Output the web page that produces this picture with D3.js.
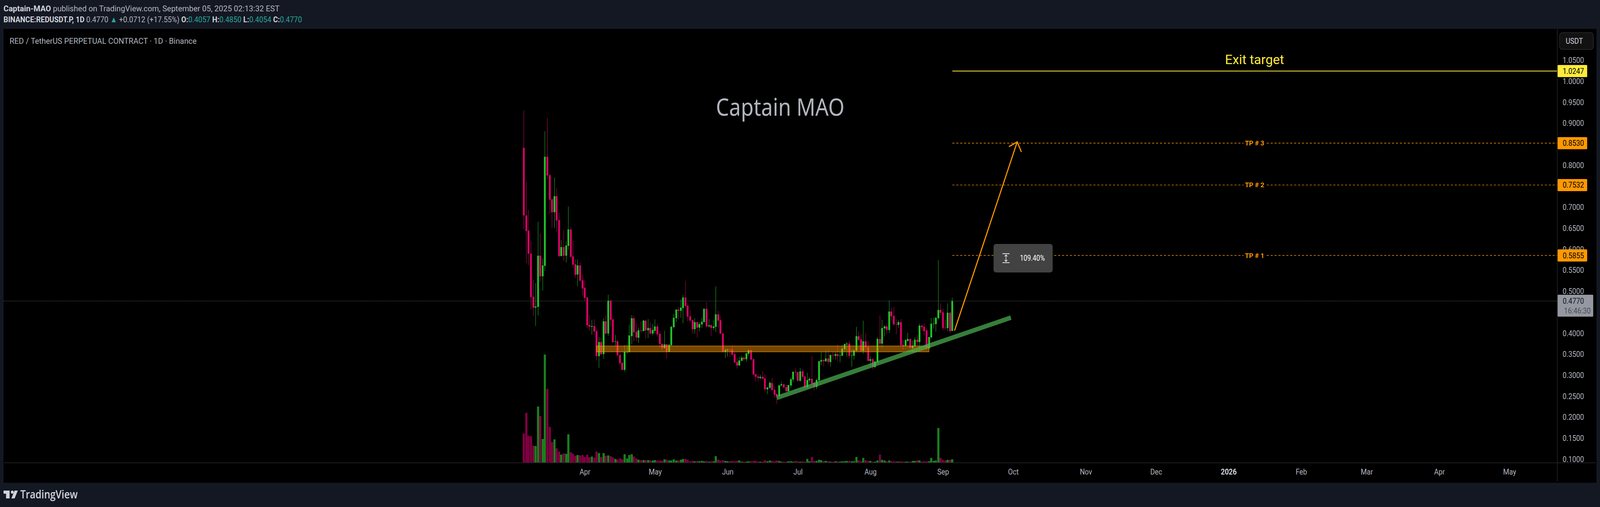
<!DOCTYPE html>
<html lang="en">
<head>
<meta charset="utf-8">
<title>RED / TetherUS daily</title>
<script src="https://cdn.jsdelivr.net/npm/d3@7"></script>
<style>
  html, body { margin: 0; padding: 0; width: 100%; height: 100%; background: #141823; overflow: hidden; }
  text { font-family: Roboto, "Liberation Sans", sans-serif; }
</style>
</head>
<body>
<script>
// Daily candles, one per day from the first date
const firstDay = "2025-03-06";

const highs = [
.9305,.7610,.6940,.6204,.5273,.5198,.6660,.6381,.5785,.8811,
.9128,.7815,.7210,.7712,.7461,.6874,.6223,.6455,.6195,.7024,
.6530,.6204,.5757,.5757,.5692,.5403,.5264,.4863,.4435,.4323,
.4333,.4109,.3914,.3904,.4360,.4426,.4919,.4798,.4388,.3960,
.3848,.3550,.3308,.3718,.3737,.4202,.4435,.4416,.4230,.4137,
.4286,.4323,.4304,.4342,.4258,.4221,.4333,.4230,.4053,.3755,
.4062,.3755,.3755,.4183,.4463,.4575,.4630,.4807,.4910,.5254,
.4714,.4547,.4333,.4360,.4276,.4267,.4370,.4602,.4742,.4342,
.4212,.4304,.5115,.4537,.4407,.4016,.3643,.3634,.3634,.3709,
.3550,.3402,.3439,.3467,.3457,.3541,.3615,.3615,.3402,.3029,
.3029,.3011,.3103,.3029,.2713,.2862,.2936,.2732,.2573,.2778,
.2852,.2806,.2778,.2769,.2955,.3095,.3169,.3085,.3178,.3150,
.2983,.3057,.2955,.3457,.2834,.2927,.3346,.3550,.3383,.3597,
.3625,.3495,.3560,.3560,.3737,.3569,.3718,.3755,.3793,.3821,
.3615,.3606,.4156,.4053,.3988,.4304,.3997,.3811,.3457,.3411,
.3355,.3914,.4426,.4323,.4193,.4230,.4779,.4603,.4631,.4333,
.4314,.4342,.3839,.3858,.4016,.3876,.3830,.3914,.3960,.4230,
.4221,.4240,.4128,.3914,.4370,.4370,.4388,.5748,.4714,.4584,
.4323,.4714,.4509,.4850];

const opens = [
.8420,.6809,.6446,.5897,.4872,.4612,.4630,.5850,.5358,.5608,
.8206,.7768,.7191,.6884,.7266,.6697,.5841,.6055,.5850,.6083,
.6474,.5832,.5645,.5403,.5618,.5264,.5087,.4854,.4202,.4156,
.4174,.4053,.3457,.3792,.3504,.4286,.3997,.4779,.4333,.3801,
.3811,.3485,.3299,.3132,.3550,.3550,.3932,.4360,.4035,.3895,
.4072,.4053,.4304,.4072,.4128,.3997,.4062,.4165,.3988,.3755,
.3653,.3737,.3560,.3718,.4147,.4360,.4565,.4537,.4602,.4854,
.4658,.4407,.4314,.4100,.4267,.4137,.4212,.4267,.4584,.4165,
.4193,.4128,.4156,.4454,.4314,.3997,.3560,.3597,.3615,.3615,
.3504,.3318,.3234,.3346,.3420,.3383,.3513,.3597,.3383,.3029,
.2973,.2936,.2964,.2927,.2666,.2703,.2815,.2657,.2554,.2508,
.2759,.2787,.2722,.2620,.2759,.2899,.3085,.3076,.2871,.3095,
.2973,.2713,.2880,.2917,.2824,.2722,.2880,.3327,.3364,.3336,
.3402,.3318,.3476,.3467,.3504,.3467,.3467,.3625,.3737,.3755,
.3467,.3467,.3588,.3932,.3858,.3579,.3811,.3671,.3346,.3383,
.3197,.3308,.3867,.3755,.4118,.4165,.4081,.4519,.4416,.4221,
.4202,.4267,.3727,.3699,.3820,.3867,.3653,.3699,.3848,.3793,
.4184,.4156,.4072,.3644,.3904,.4221,.4221,.4361,.4556,.4500,
.4137,.4128,.4491,.4057];

const closes = [
.6809,.6437,.5897,.4863,.4612,.4640,.5850,.5358,.5618,.8206,
.7759,.7181,.6884,.7266,.6688,.5841,.6055,.5850,.6092,.6474,
.5822,.5636,.5394,.5618,.5254,.5068,.4845,.4193,.4156,.4174,
.4044,.3457,.3792,.3504,.4286,.3997,.4779,.4323,.3792,.3811,
.3476,.3290,.3132,.3560,.3560,.3951,.4360,.4025,.3904,.4072,
.4062,.4304,.4072,.4128,.3997,.4081,.4165,.3979,.3746,.3653,
.3737,.3560,.3727,.4156,.4370,.4565,.4537,.4612,.4854,.4649,
.4398,.4304,.4100,.4267,.4137,.4221,.4276,.4584,.4165,.4193,
.4128,.4165,.4454,.4304,.3997,.3560,.3606,.3615,.3606,.3494,
.3308,.3234,.3355,.3420,.3383,.3523,.3597,.3374,.3020,.2964,
.2936,.2964,.2917,.2666,.2713,.2824,.2647,.2536,.2508,.2759,
.2787,.2713,.2620,.2769,.2908,.3085,.3076,.2871,.3095,.2964,
.2713,.2889,.2917,.2806,.2722,.2889,.3336,.3364,.3336,.3402,
.3318,.3485,.3467,.3504,.3457,.3476,.3634,.3746,.3755,.3467,
.3476,.3597,.3932,.3848,.3579,.3811,.3662,.3346,.3383,.3197,
.3327,.3867,.3755,.4128,.4165,.4081,.4519,.4407,.4212,.4212,
.4267,.3718,.3699,.3839,.3867,.3653,.3709,.3848,.3793,.4184,
.4147,.4053,.3644,.3914,.4230,.4230,.4370,.4556,.4491,.4128,
.4128,.4491,.4053,.4770];

const lows = [
.6483,.5673,.5627,.4565,.4407,.4174,.4426,.5226,.5022,.5487,
.7675,.6856,.6511,.6511,.6427,.5813,.5832,.5720,.5692,.5990,
.5813,.5571,.5319,.5124,.5217,.4900,.4761,.4118,.4072,.3969,
.3960,.3346,.3178,.3476,.3392,.3969,.3942,.4165,.3764,.3699,
.3457,.3243,.3113,.3085,.3513,.3550,.3737,.3811,.3811,.3774,
.4016,.4053,.3876,.3885,.3960,.3951,.3997,.3923,.3672,.3578,
.3634,.3402,.3560,.3699,.4109,.4276,.4333,.4370,.4239,.4621,
.4286,.4258,.3988,.3997,.3895,.4053,.4128,.4267,.4137,.4137,
.3942,.4081,.4035,.4118,.3969,.3541,.3411,.3448,.3439,.3457,
.3290,.3160,.3234,.3336,.3336,.3327,.3457,.3364,.2992,.2852,
.2852,.2899,.2917,.2610,.2554,.2675,.2638,.2461,.2321,.2489,
.2732,.2694,.2610,.2610,.2703,.2834,.2992,.2852,.2843,.2927,
.2685,.2713,.2815,.2787,.2638,.2666,.2852,.3243,.3206,.3318,
.3262,.3206,.3374,.3374,.3336,.3308,.3457,.3569,.3448,.3402,
.3206,.3374,.3569,.3820,.3560,.3513,.3541,.3336,.3225,.3141,
.3169,.3308,.3662,.3662,.3932,.3979,.4007,.4304,.4184,.3979,
.4128,.3699,.3606,.3699,.3793,.3644,.3550,.3653,.3709,.3606,
.4063,.3951,.3606,.3615,.3876,.4109,.4044,.4333,.4435,.4081,
.4090,.4053,.4007,.4054];

// relative volume, no scale is shown in the picture
const volumes = [
222,381,204,201,129,126,429,357,180,828,
564,273,156,177,108,84,60,69,66,216,
78,66,51,57,54,57,42,60,39,45,
36,84,72,42,72,51,54,48,39,27,
21,30,24,63,30,57,63,45,30,21,
18,18,18,18,15,15,18,15,15,12,
24,21,15,15,24,15,15,21,27,27,
21,9,12,9,12,9,12,9,12,6,
9,9,48,21,12,18,12,9,9,12,
9,12,15,6,6,6,9,9,12,12,
6,6,6,18,9,15,12,9,15,12,
6,6,6,9,9,6,12,9,6,9,
6,27,9,42,12,12,21,18,9,12,
9,6,6,9,9,6,9,9,12,12,
9,9,42,15,9,35,17,12,12,5,
6,15,60,20,15,9,15,9,9,9,
6,9,6,6,6,6,12,12,17,15,
6,9,9,9,35,12,15,264,35,20,
15,20,20,24];

// 0.4500 is left out, the last price tag covers it
const priceTicks = [.1,.15,.2,.25,.3,.35,.4,.5,.55,.6,.65,.7,.75,.8,.85,.9,.95,1,1.05];
const monthTicks = ["2025-04-01","2025-05-01","2025-06-01","2025-07-01","2025-08-01","2025-09-01","2025-10-01","2025-11-01","2025-12-01","2026-01-01","2026-02-01","2026-03-01","2026-04-01","2026-05-01"];

const lastPrice = 0.4770;
const targets = [
  {name: "TP # 1", price: 0.5855},
  {name: "TP # 2", price: 0.7532},
  {name: "TP # 3", price: 0.8530}
];
const exitPrice = 1.0247;
const drawStart = "2025-09-05";
const zonePrices = [0.3699, 0.3560];
const zoneDates = ["2025-04-06", "2025-08-26"];
const trendPrices = [0.2464, 0.4374];
const trendDates = ["2025-06-22", "2025-09-30"];
const arrowPrices = [0.4076, 0.8559];
const arrowDates = ["2025-09-06T00:00Z", "2025-10-02T17:00Z"];
const headPrices = [0.8451, 0.8559, 0.8330];
const headDates = ["2025-09-29T08:00Z", "2025-10-02T17:00Z", "2025-10-04T10:00Z"];

// layout
const W = 4493, H = 1297;
const pane = {left: 10, top: 74, right: 4483, bottom: 1235, axisX: 4373, timeY: 1184};
const UP = "#21c72b", DOWN = "#df0068", UP_VOL = "#1b801f", DOWN_VOL = "#810041";
const ORANGE = "#ff9800", YELLOW = "#ffeb3b", TEXT = "#b2b5be", RULE = "#2a2a2a";

const parseDay = s => new Date(s.length > 10 ? s : s + "T00:00Z");
const dates = opens.map((d, i) => d3.utcDay.offset(parseDay(firstDay), i));
const candles = opens.map((o, i) => ({date: dates[i], o: o, h: highs[i], l: lows[i], c: closes[i], v: volumes[i]}));

const x = d3.scaleUtc().domain([dates[0], dates[dates.length - 1]]).range([1471.3, 2674.3]);
const y = d3.scaleLinear().domain([0.1, 1]).range([1175, 208.3]);
const vol = d3.scaleLinear().domain([0, 828]).range([1183, 907]);

// fills whatever window it gets, so the whole chart is always in the picture
const svg = d3.select("body").append("svg")
  .attr("viewBox", `0 0 ${W} ${H}`)
  .attr("preserveAspectRatio", "none")
  .style("width", "100vw").style("height", "100vh").style("display", "block");

svg.append("rect").attr("width", W).attr("height", H).attr("fill", "#141823");
svg.append("rect").attr("x", pane.left).attr("y", pane.top)
  .attr("width", pane.right - pane.left).attr("height", pane.bottom - pane.top).attr("fill", "#000");

// header lines
function label(parent, px, py, str, size, fill, weight, anchor) {
  return parent.append("text").attr("x", px).attr("y", py).attr("font-size", size)
    .attr("fill", fill).attr("font-weight", weight || 400).attr("text-anchor", anchor || "start").text(str);
}
const head1 = label(svg, 10, 29, "", 21, TEXT).attr("textLength", 775).attr("lengthAdjust", "spacingAndGlyphs");
head1.append("tspan").attr("font-weight", 700).attr("fill", "#d1d4dc").text("Captain-MAO");
head1.append("tspan").text(" published on TradingView.com, September 05, 2025 02:13:32 EST");

const head2 = label(svg, 10, 57, "", 21, "#d1d4dc").attr("textLength", 838).attr("lengthAdjust", "spacingAndGlyphs");
head2.append("tspan").attr("font-weight", 700).text("BINANCE:REDUSDT.P, 1D");
head2.append("tspan").attr("fill", TEXT).text("  0.4770 ");
head2.append("tspan").attr("fill", "#26a69a").text("▲");
head2.append("tspan").attr("fill", TEXT).text(" +0.0712 (+17.55%) ");
[["O:", "0.4057"], ["H:", "0.4850"], ["L:", "0.4054"], ["C:", "0.4770"]].forEach((p, i) => {
  head2.append("tspan").attr("font-weight", 700).text(p[0]);
  head2.append("tspan").attr("fill", "#26a69a").text(i < 3 ? p[1] + " " : p[1]);
});

label(svg, 27, 112, "RED / TetherUS PERPETUAL CONTRACT · 1D · Binance", 21, TEXT)
  .attr("textLength", 525).attr("lengthAdjust", "spacingAndGlyphs");
label(svg, 2191, 296, "Captain MAO", 62, "#b2b5be", 400, "middle").style("font-family", "'Noto Sans'")
  .attr("textLength", 361).attr("lengthAdjust", "spacingAndGlyphs");

// last price line sits under the candles
svg.append("line").attr("x1", pane.left).attr("x2", pane.axisX)
  .attr("y1", y(lastPrice)).attr("y2", y(lastPrice))
  .attr("stroke", "#808080").attr("stroke-width", 1.2).attr("stroke-dasharray", "1.5 2.5");

// volume
const barW = 6;
svg.append("g").selectAll("rect").data(candles).enter().append("rect")
  .attr("x", d => Math.round(x(d.date) - barW / 2))
  .attr("y", d => vol(d.v))
  .attr("width", barW)
  .attr("height", d => vol(0) - vol(d.v))
  .attr("fill", d => d.c >= d.o ? UP_VOL : DOWN_VOL);

// candles
const bodyW = 5;
const candle = svg.append("g").selectAll("g").data(candles).enter().append("g")
  .attr("fill", d => d.c >= d.o ? UP : DOWN);
candle.append("rect")
  .attr("x", d => Math.round(x(d.date)) - 0.5)
  .attr("y", d => y(d.h))
  .attr("width", 1)
  .attr("height", d => y(d.l) - y(d.h));
candle.append("rect")
  .attr("x", d => Math.round(x(d.date)) - bodyW / 2)
  .attr("y", d => y(Math.max(d.o, d.c)))
  .attr("width", bodyW)
  .attr("height", d => Math.max(1, Math.abs(y(d.o) - y(d.c))));

// support zone
svg.append("rect")
  .attr("x", x(parseDay(zoneDates[0])))
  .attr("y", y(zonePrices[0]))
  .attr("width", x(parseDay(zoneDates[1])) - x(parseDay(zoneDates[0])))
  .attr("height", y(zonePrices[1]) - y(zonePrices[0]))
  .attr("fill", ORANGE).attr("fill-opacity", 0.46)
  .attr("stroke", ORANGE).attr("stroke-opacity", 0.75).attr("stroke-width", 1.5);

// rising trend line
const pathLine = d3.line().x(d => x(d[0])).y(d => y(d[1]));
svg.append("path")
  .attr("d", pathLine(trendDates.map((d, i) => [parseDay(d), trendPrices[i]])))
  .attr("fill", "none").attr("stroke", "#4caf50").attr("stroke-opacity", 0.72).attr("stroke-width", 11.5);

// target lines
const lineStart = x(parseDay(drawStart));
targets.forEach(t => {
  const py = y(t.price);
  svg.append("line").attr("x1", lineStart).attr("x2", 3492).attr("y1", py).attr("y2", py)
    .attr("stroke", ORANGE).attr("stroke-width", 1.4).attr("stroke-dasharray", "6 5");
  svg.append("line").attr("x1", 3557).attr("x2", pane.axisX).attr("y1", py).attr("y2", py)
    .attr("stroke", ORANGE).attr("stroke-width", 1.4).attr("stroke-dasharray", "6 5");
  label(svg, 3523, py + 6, t.name, 17, ORANGE, 700, "middle").attr("textLength", 54).attr("lengthAdjust", "spacingAndGlyphs");
});
svg.append("line").attr("x1", lineStart).attr("x2", pane.axisX).attr("y1", y(exitPrice)).attr("y2", y(exitPrice))
  .attr("stroke", YELLOW).attr("stroke-width", 2);
label(svg, 3523, y(exitPrice) - 18, "Exit target", 34, YELLOW, 400, "middle").attr("textLength", 166).attr("lengthAdjust", "spacingAndGlyphs");

// projection arrow
svg.append("path").attr("d", pathLine(arrowDates.map((d, i) => [parseDay(d), arrowPrices[i]])))
  .attr("fill", "none").attr("stroke", ORANGE).attr("stroke-width", 3).attr("stroke-linecap", "round");
svg.append("path").attr("d", pathLine(headDates.map((d, i) => [parseDay(d), headPrices[i]])))
  .attr("fill", "none").attr("stroke", ORANGE).attr("stroke-width", 3).attr("stroke-linecap", "round");

// percent note
const note = svg.append("g");
note.append("rect").attr("x", 2790).attr("y", 624).attr("width", 166).attr("height", 73).attr("rx", 7).attr("fill", "#424242");
const iconX = 2825;
note.append("path").attr("d", `M${iconX - 10},649H${iconX + 10}M${iconX - 10},672H${iconX + 10}`).attr("stroke", "#e0e0e0").attr("stroke-width", 2);
note.append("path").attr("d", `M${iconX},652V669M${iconX - 4},656L${iconX},652L${iconX + 4},656M${iconX - 4},665L${iconX},669L${iconX + 4},665`)
  .attr("stroke", "#fff").attr("stroke-width", 1.5).attr("fill", "none");
label(note, 2899, 667, "109.40%", 20, "#fff", 400, "middle").attr("textLength", 70).attr("lengthAdjust", "spacingAndGlyphs");

// scales
svg.append("line").attr("x1", pane.axisX).attr("x2", pane.axisX).attr("y1", pane.top).attr("y2", pane.bottom - 3).attr("stroke", RULE).attr("stroke-width", 1.5);
svg.append("line").attr("x1", pane.left + 2).attr("x2", pane.right - 2).attr("y1", pane.timeY).attr("y2", pane.timeY).attr("stroke", RULE).attr("stroke-width", 1.5);

const yAxis = d3.axisRight(y).tickValues(priceTicks).tickFormat(d3.format(".4f")).tickSize(0);
const yg = svg.append("g").attr("transform", `translate(${pane.axisX},0)`).call(yAxis);
yg.select(".domain").remove();
yg.selectAll("text").attr("x", 75).attr("text-anchor", "end").attr("font-size", 19.5)
  .attr("fill", TEXT).style("font-family", "Roboto");

const xAxis = d3.axisBottom(x).tickValues(monthTicks.map(parseDay)).tickSize(0)
  .tickFormat(d => d.getUTCMonth() === 0 ? d3.utcFormat("%Y")(d) : d3.utcFormat("%b")(d));
const xg = svg.append("g").attr("transform", `translate(0,${pane.timeY})`).call(xAxis);
xg.select(".domain").remove();
xg.selectAll("text").attr("y", 30).attr("dy", 0).attr("font-size", 19.5)
  .attr("fill", d => d.getUTCMonth() === 0 ? "#d1d4dc" : TEXT)
  .attr("font-weight", d => d.getUTCMonth() === 0 ? 700 : 400)
  .style("font-family", "Roboto");

// price tags on the scale
function tag(price, fill) {
  const py = y(price);
  svg.append("rect").attr("x", pane.axisX + 1).attr("y", py - 15.5).attr("width", 83).attr("height", 31).attr("rx", 2).attr("fill", fill);
  label(svg, pane.axisX + 75, py + 7, d3.format(".4f")(price), 19.5, "#000", 400, "end");
}
tag(exitPrice, YELLOW);
targets.forEach(t => tag(t.price, ORANGE));

const ly = y(lastPrice);
svg.append("rect").attr("x", pane.axisX + 1).attr("y", ly - 16).attr("width", 100).attr("height", 56).attr("rx", 2).attr("fill", "#9598a1");
label(svg, pane.axisX + 75, ly + 7, d3.format(".4f")(lastPrice), 19.5, "#131722", 400, "end");
label(svg, pane.axisX + 94, ly + 32, "16:46:30", 19.5, "#4a4d55", 400, "end");

// currency button
svg.append("rect").attr("x", 4379.5).attr("y", 83.5).attr("width", 95).attr("height", 43).attr("rx", 8)
  .attr("fill", "#121212").attr("stroke", "#2e2e2e").attr("stroke-width", 1.5);
label(svg, 4421, 112, "USDT", 19.5, "#d1d4dc", 400, "middle");

// logo
const logo = svg.append("g").attr("fill", "#d1d4dc");
logo.append("path").attr("d", "M10,1255H27V1275H17V1263H10Z");
logo.append("circle").attr("cx", 34.5).attr("cy", 1259).attr("r", 4);
logo.append("path").attr("d", "M41,1255H50L41,1275H32Z");
label(logo, 57, 1275, "TradingView", 28, "#d1d4dc", 600).style("font-family", "'Open Sans'").attr("textLength", 161).attr("lengthAdjust", "spacingAndGlyphs");
</script>
</body>
</html>
